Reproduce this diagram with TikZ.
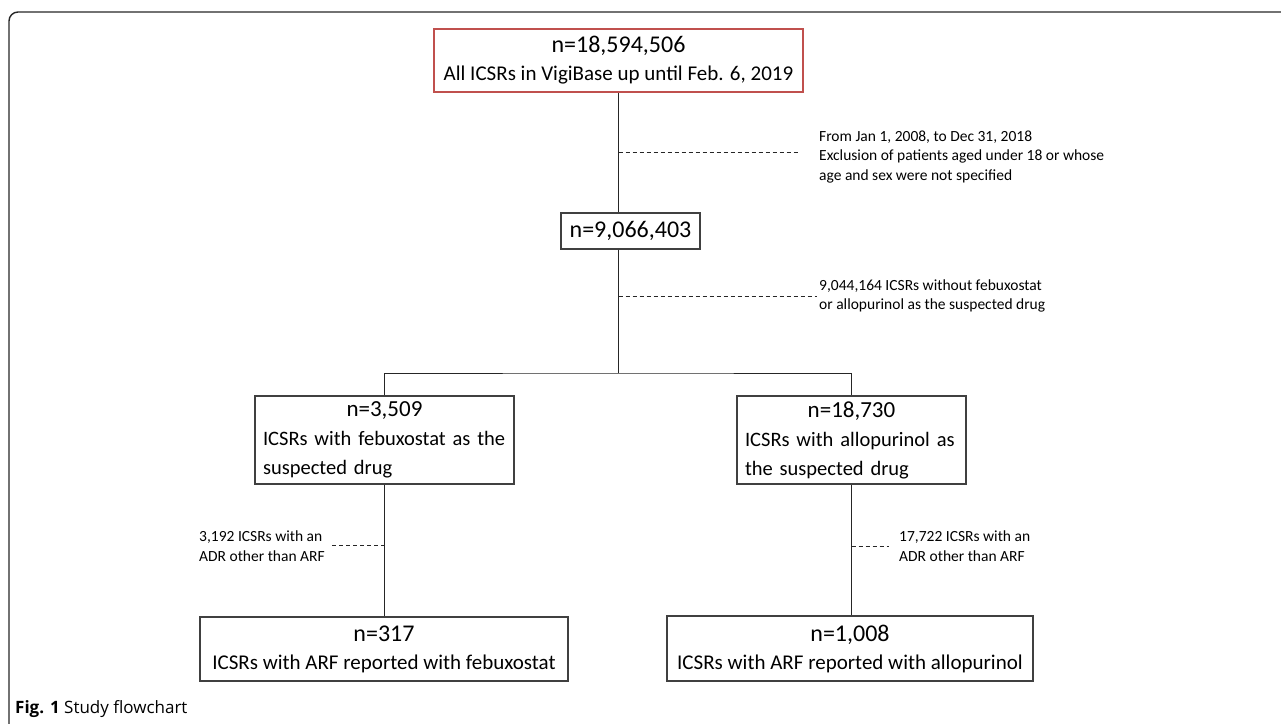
\documentclass[tikz,border=0pt]{standalone}
\usepackage{fontspec}
\setmainfont{Carlito}
\newfontfamily\capfont{Open Sans}
\definecolor{boxred}{RGB}{192,80,77}
\newcommand{\countline}[1]{{\fontsize{24}{28}\selectfont #1}}
\begin{document}
\begin{tikzpicture}[x=1pt,y=-1pt]
        \tikzstyle{every node} = [font=\fontsize{21}{28}\selectfont, inner sep=0pt]
        \tikzstyle{box} = [draw=black!75, line width=1.1pt, rectangle, align=center]
        \tikzstyle{note} = [anchor=west, align=left, font=\fontsize{15.5}{19.5}\selectfont]
        \tikzstyle{link} = [draw=black!85, line width=0.9pt]
        \tikzstyle{skip} = [link, dash pattern=on 4pt off 3pt]
            \useasboundingbox (0,0) rectangle (1281,723);
            \draw[line width=1.4pt, black!85, rounded corners=9pt] (9,760) -- (9,12) -- (1320,12);

            \node[box, draw=boxred, line width=2pt, minimum width=369pt, minimum height=63pt] (all) at (618.5,60.5)
                {\countline{n=18,594,506}\\ All ICSRs in VigiBase up until Feb. 6, 2019};
            \node[box, minimum width=139pt, minimum height=36pt] (cohort) at (630.5,231)
                {\countline{n=9,066,403}};
            \node[box, align=left, text width=243pt, inner xsep=8pt, minimum height=88pt, font=\fontsize{20.5}{29}\selectfont] (febu) at (384.5,440)
                {\makebox[\linewidth]{\fontsize{23}{28}\selectfont n=3,509}\\ ICSRs with febuxostat as the\\ suspected drug};
            \node[box, align=left, text width=213pt, inner xsep=8pt, minimum height=88pt, font=\fontsize{20.5}{29}\selectfont] (allo) at (851.5,440)
                {\makebox[\linewidth]{\fontsize{23}{28}\selectfont n=18,730}\\ ICSRs with allopurinol as\\ the suspected drug};
            \node[box, minimum width=368pt, minimum height=64pt] (arfa) at (384,649)
                {\countline{n=317}\\ ICSRs with ARF reported with febuxostat};
            \node[box, minimum width=366pt, minimum height=65pt] (arfb) at (850,648.5)
                {\countline{n=1,008}\\ ICSRs with ARF reported with allopurinol};

            \node[note] (period) at (819,157) {From Jan 1, 2008, to Dec 31, 2018\\ Exclusion of patients aged under 18 or whose\\ age and sex were not specified};
            \node[note] (nodrug) at (819,296) {9,044,164 ICSRs without febuxostat\\ or allopurinol as the suspected drug};
            \node[note] (otherf) at (199,546) {3,192 ICSRs with an\\ ADR other than ARF};
            \node[note] (othera) at (899,546) {17,722 ICSRs with an\\ ADR other than ARF};

            \coordinate (split) at (618.5,373);
            \coordinate (cut1) at (800,152);
            \coordinate (cut2) at (817,296);
            \coordinate (cut3) at (329,545);
            \coordinate (cut4) at (889,546);

            \draw[link] (all.south) -- (all.south |- cohort.north);
            \draw[link] (all.south |- cohort.south) -- (split);
            \draw[link] (febu.north) |- (split) -| (allo.north);
            \draw[link] (febu.south) -- (febu.south |- arfa.north);
            \draw[link] (allo.south) -- (allo.south |- arfb.north);

            \draw[skip] (all.south |- cut1) -- (cut1);
            \draw[skip] (all.south |- cut2) -- (cut2);
            \draw[skip] (febu.south |- cut3) -- (cut3);
            \draw[skip] (allo.south |- cut4) -- (cut4);

            \node[anchor=base west, font=\capfont\fontsize{17}{20}\selectfont] (caption) at (15,713)
                {\textbf{Fig. 1} Study flowchart};
\end{tikzpicture}
\end{document}
